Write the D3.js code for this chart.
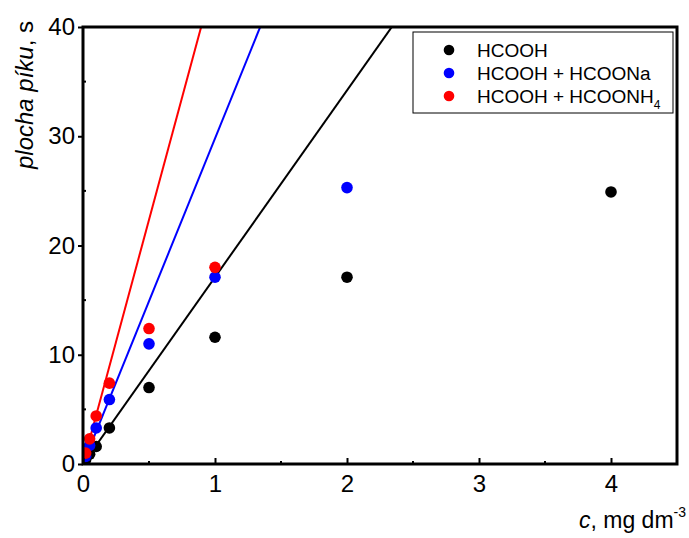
<!DOCTYPE html>
<html>
<head>
<meta charset="utf-8">
<script src="https://cdn.jsdelivr.net/npm/d3@7"></script>
<style>
  body { margin: 0; background: #fff; }
  text { font-family: "Liberation Sans", Arial, sans-serif; }
</style>
</head>
<body>
<script>
// data
var concX = [0.02, 0.05, 0.1, 0.2, 0.5, 1, 2, 4];
var hcooh = [0.4, 0.9, 1.6, 3.3, 7.0, 11.6, 17.1, 24.9];
var hcoohNa = [0.7, 1.7, 3.3, 5.9, 11.0, 17.1, 25.3];
var hcoohNH4 = [1.0, 2.3, 4.4, 7.4, 12.4, 18.0];
// slopes of the fitted lines (area per mg dm-3)
var slopes = [17.1, 29.8, 44.7];
var seriesNames = ["HCOOH", "HCOOH + HCOONa", "HCOOH + HCOONH"];
var colors = ["#000000", "#0000ff", "#ff0000"];
var xTicks = [0, 1, 2, 3, 4];
var yTicks = [0, 10, 20, 30, 40];

var W = 689, H = 538;
var pLeft = 83, pRight = 677, pTop = 27, pBottom = 464;

var svg = d3.select("body").append("svg")
    .attr("width", W)
    .attr("height", H);

var x = d3.scaleLinear().domain([0, 4.5]).range([pLeft, pRight]);
var y = d3.scaleLinear().domain([0, 40]).range([pBottom, pTop]);

svg.append("clipPath").attr("id", "clip")
    .append("rect")
    .attr("x", pLeft).attr("y", pTop)
    .attr("width", pRight - pLeft).attr("height", pBottom - pTop);

var plot = svg.append("g").attr("clip-path", "url(#clip)");

// fitted lines
slopes.forEach(function (k, i) {
    plot.append("line")
        .attr("x1", x(0)).attr("y1", y(0))
        .attr("x2", x(45 / k)).attr("y2", y(45))
        .attr("stroke", colors[i])
        .attr("stroke-width", 2);
});

// points
var allSeries = [hcooh, hcoohNa, hcoohNH4];
allSeries.forEach(function (vals, i) {
    plot.selectAll(".pt" + i)
        .data(vals)
        .enter()
        .append("circle")
        .attr("cx", function (d, j) { return x(concX[j]); })
        .attr("cy", function (d) { return y(d); })
        .attr("r", 5.8)
        .attr("fill", colors[i]);
});

// axes
var xAxis = d3.axisBottom(x).tickValues(xTicks).tickSize(-6).tickPadding(0)
    .tickFormat(d3.format("d"));
var yAxis = d3.axisLeft(y).tickValues(yTicks).tickSize(5).tickPadding(3)
    .tickFormat(d3.format("d"));

var gx = svg.append("g").attr("transform", "translate(0," + pBottom + ")").call(xAxis);
var gy = svg.append("g").attr("transform", "translate(" + pLeft + ",0)").call(yAxis);
[gx, gy].forEach(function (g) {
    g.select(".domain").remove();
    g.selectAll("line").attr("stroke", "#000").attr("stroke-width", 2);
    g.selectAll("text").attr("font-size", 24).attr("fill", "#000")
        .style("font-family", "'Liberation Sans', Arial, sans-serif");
});
gx.selectAll("text").attr("y", 28).attr("dy", 0);
gy.selectAll("text").attr("dy", "0.32em");

// minor ticks
[0.5, 1.5, 2.5, 3.5].forEach(function (v) {
    svg.append("line").attr("x1", x(v)).attr("x2", x(v))
        .attr("y1", pBottom).attr("y2", pBottom - 3)
        .attr("stroke", "#000").attr("stroke-width", 2);
});
[5, 15, 25, 35].forEach(function (v) {
    svg.append("line").attr("x1", pLeft).attr("x2", pLeft + 3)
        .attr("y1", y(v)).attr("y2", y(v))
        .attr("stroke", "#000").attr("stroke-width", 2);
});

// frame
svg.append("rect")
    .attr("x", pLeft).attr("y", pTop)
    .attr("width", pRight - pLeft).attr("height", pBottom - pTop)
    .attr("fill", "none").attr("stroke", "#000").attr("stroke-width", 3);

// axis titles
var yt = svg.append("text")
    .attr("transform", "translate(33,95) rotate(-90)")
    .attr("text-anchor", "middle")
    .attr("font-size", 24);
yt.append("tspan").attr("font-style", "italic").text("plocha píku");
yt.append("tspan").text(", s");

var xt = svg.append("text")
    .attr("x", 686).attr("y", 528)
    .attr("text-anchor", "end")
    .attr("font-size", 23);
xt.append("tspan").attr("font-style", "italic").text("c");
xt.append("tspan").text(", mg dm");
xt.append("tspan").attr("dy", -11).attr("font-size", 14).text("-3");

// legend
var lg = svg.append("g");
lg.append("rect")
    .attr("x", 413).attr("y", 32)
    .attr("width", 260).attr("height", 81)
    .attr("fill", "#fff").attr("stroke", "#000").attr("stroke-width", 1);
seriesNames.forEach(function (name, i) {
    var cy = 50 + i * 23;
    lg.append("circle").attr("cx", 449).attr("cy", cy).attr("r", 5.3).attr("fill", colors[i]);
    var t = lg.append("text").attr("x", 477).attr("y", cy + 7).attr("font-size", 19).text(name);
    if (i === 2) {
        t.append("tspan").attr("dy", 6).attr("font-size", 12).text("4");
    }
});
</script>
</body>
</html>
